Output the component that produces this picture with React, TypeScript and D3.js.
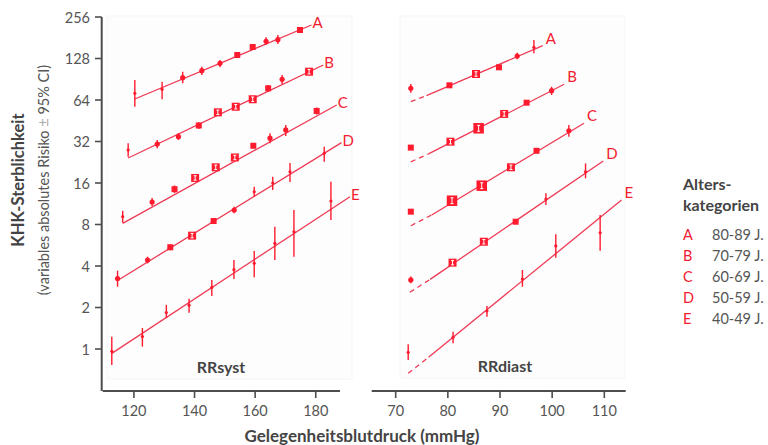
import React from "react";
import * as d3 from "d3";

const W = 768;
const H = 445;

const groups = ["A", "B", "C", "D", "E"];
const ageClasses = ["80-89 J.", "70-79 J.", "60-69 J.", "50-59 J.", "40-49 J."];
const riskTicks = [1, 2, 4, 8, 16, 32, 64, 128, 256];
const sysTicks = [120, 140, 160, 180];
const diaTicks = [70, 80, 90, 100, 110];

// rows: [blood pressure mmHg, risk, CI low, CI high, weight class]
const sysA = [
  [120.3, 71.6, 57.2, 89.4, 1], [129.3, 76.5, 64.8, 86.9, 1], [136.1, 92.9, 84.6, 102.7, 2],
  [142.4, 104.4, 97.2, 111.6, 2], [148.4, 118.1, 110.5, 124.8, 2], [154.1, 135.7, 130.6, 141.0, 3],
  [159.2, 155.1, 147.5, 162.3, 3], [163.6, 170.6, 160.4, 182.4, 2], [167.5, 175.2, 163.1, 189.5, 2],
  [174.8, 206.1, 199.3, 212.0, 3],
];
const sysB = [
  [118.1, 27.8, 24.8, 31.1, 1], [127.7, 30.7, 28.6, 32.8, 2], [134.7, 34.7, 32.8, 36.9, 2],
  [141.4, 41.8, 39.4, 44.3, 3], [147.7, 52.1, 49.0, 55.1, 4], [153.6, 57.2, 54.2, 59.9, 4],
  [159.2, 64.8, 60.9, 68.4, 4], [164.3, 77.8, 73.2, 82.2, 3], [168.9, 90.4, 83.6, 97.2, 2],
  [177.8, 102.7, 96.4, 109.2, 4],
];
const sysC = [
  [116.3, 9.11, 8.24, 10.08, 1], [126.0, 11.65, 10.9, 12.46, 2], [133.4, 14.43, 13.54, 15.35, 3],
  [140.2, 17.4, 16.8, 18.0, 4], [147.0, 20.8, 20.1, 21.5, 4], [153.3, 24.5, 23.7, 25.3, 4],
  [159.4, 29.8, 28.6, 31.0, 3], [164.9, 33.8, 31.1, 36.7, 2], [170.1, 38.8, 35.1, 42.2, 2],
  [180.3, 53.3, 50.2, 56.5, 3],
];
const sysD = [
  [114.6, 3.24, 2.83, 3.7, 2], [124.5, 4.42, 4.18, 4.67, 2], [132.0, 5.47, 5.2, 5.75, 3],
  [139.2, 6.64, 6.4, 6.9, 4], [146.3, 8.48, 8.1, 8.9, 3], [153.1, 10.19, 9.65, 10.77, 2],
  [159.7, 13.83, 12.73, 15.04, 1], [165.8, 16.0, 14.23, 17.78, 1], [171.5, 19.3, 16.27, 22.35, 1],
  [182.8, 26.3, 22.8, 29.3, 1],
];
const sysE = [
  [112.7, 0.962, 0.765, 1.228, 1], [122.8, 1.23, 1.04, 1.42, 1], [130.7, 1.84, 1.68, 2.09, 1],
  [138.2, 2.08, 1.83, 2.31, 1], [145.7, 2.8, 2.42, 3.17, 1], [153.0, 3.76, 3.22, 4.42, 1],
  [159.7, 4.18, 3.31, 5.14, 1], [166.5, 5.84, 4.42, 7.71, 1], [172.8, 7.09, 4.67, 10.19, 1],
  [185.0, 11.85, 8.63, 16.35, 1],
];

// regression lines: [mmHg, risk] start and end
const sysFitA = [[120.3, 65.1], [178.6, 224]];
const sysFitB = [[118.1, 24.3], [182.5, 114.8]];
const sysFitC = [[116.3, 8.16], [186.9, 58.9]];
const sysFitD = [[114.6, 3.14], [188.5, 31.4]];
const sysFitE = [[112.7, 0.93], [191.3, 12.73]];

const diaA = [
  [72.9, 77.8, 72.3, 83.6, 2], [80.3, 81.8, 79.5, 84.2, 3], [85.4, 98.8, 96.0, 101.7, 4],
  [89.8, 110.5, 107.5, 113.5, 3], [93.3, 133.4, 126.3, 141.0, 2], [96.5, 154.3, 139.6, 174.4, 1],
];
const diaB = [
  [72.9, 28.9, 28.0, 29.8, 3], [80.5, 31.9, 31.0, 32.8, 4], [85.9, 39.9, 38.8, 41.0, 5],
  [90.8, 50.7, 49.3, 52.1, 4], [95.1, 61.2, 59.5, 63.0, 3], [99.9, 74.8, 69.6, 79.9, 2],
];
const diaC = [
  [72.9, 9.91, 9.6, 10.2, 3], [80.8, 11.9, 11.5, 12.3, 5], [86.5, 15.3, 14.8, 15.8, 5],
  [92.1, 20.8, 20.1, 21.5, 4], [97.0, 27.4, 26.6, 28.2, 3], [103.2, 38.3, 34.7, 42.2, 2],
];
const diaD = [
  [72.9, 3.17, 3.0, 3.35, 2], [80.9, 4.23, 4.1, 4.37, 4], [86.9, 6.0, 5.8, 6.2, 4],
  [93.0, 8.38, 8.1, 8.65, 3], [98.8, 12.24, 11.08, 13.47, 1], [106.4, 19.3, 17.3, 22.2, 1],
];
const diaE = [
  [72.4, 0.946, 0.832, 1.081, 1], [81.0, 1.216, 1.1, 1.335, 1], [87.5, 1.887, 1.715, 2.05, 1],
  [94.3, 3.22, 2.83, 3.74, 1], [100.7, 5.59, 4.59, 6.79, 1], [109.2, 6.97, 5.16, 9.38, 1],
];

// [dashed start, solid start, end]
const diaFitA = [[72.9, 62.2], [75.9, 68.8], [98.2, 158.5]];
const diaFitB = [[72.9, 22.8], [76.3, 26.0], [102.3, 83.2]];
const diaFitC = [[72.9, 7.84], [76.9, 9.38], [106.1, 43.4]];
const diaFitD = [[72.7, 2.58], [76.6, 3.2], [109.8, 23.1]];
const diaFitE = [[72.4, 0.666], [76.3, 0.871], [113.3, 12.04]];

const sysSeries = [sysA, sysB, sysC, sysD, sysE];
const sysFits = [sysFitA, sysFitB, sysFitC, sysFitD, sysFitE];
const diaSeries = [diaA, diaB, diaC, diaD, diaE];
const diaFits = [diaFitA, diaFitB, diaFitC, diaFitD, diaFitE];

const LINE = "#ee3a55";
const MARK = "#ff1a2e";
const LABEL = "#f2202f";
const AXIS = "#4d4d4d";
const TEXT = "#555555";
const FONT = "Lato, 'Open Sans', sans-serif";

const y = d3.scaleLog().base(2).domain([1, 256]).range([349, 17]);
const xSys = d3.scaleLinear().domain([109.7, 188]).range([102.7, 340]);
const xDia = d3.scaleLinear().domain([65.4, 114.1]).range([371.7, 625.7]);
const AXIS_Y = 391;

const sizeOf = d3.scaleOrdinal<number, number>().domain([1, 2, 3, 4, 5]).range([1.6, 2.6, 6, 8, 10.5]);

function Marker({ cx, cy, w }: { cx: number; cy: number; w: number }) {
  const s = sizeOf(w);
  if (w <= 2) return <circle cx={cx} cy={cy} r={s} fill={MARK} />;
  return (
    <g>
      <rect x={cx - s / 2} y={cy - s / 2} width={s} height={s} fill={MARK} />
      {w >= 4 && (
        <g stroke="#fff" strokeWidth={1}>
          <line x1={cx} x2={cx} y1={cy - s * 0.28} y2={cy + s * 0.28} />
          <line x1={cx - 1.5} x2={cx + 1.5} y1={cy - s * 0.28} y2={cy - s * 0.28} />
          <line x1={cx - 1.5} x2={cx + 1.5} y1={cy + s * 0.28} y2={cy + s * 0.28} />
        </g>
      )}
    </g>
  );
}

function Series({ rows, x }: { rows: number[][]; x: d3.ScaleLinear<number, number> }) {
  return (
    <g>
      {rows.map((r, i) => (
        <line key={"e" + i} x1={x(r[0])} x2={x(r[0])} y1={y(r[2])} y2={y(r[3])} stroke={MARK} strokeWidth={1.4} />
      ))}
      {rows.map((r, i) => (
        <Marker key={"m" + i} cx={x(r[0])} cy={y(r[1])} w={r[4]} />
      ))}
    </g>
  );
}

export default function App() {
  const line = (x: d3.ScaleLinear<number, number>) =>
    d3.line<number[]>().x((d) => x(d[0])).y((d) => y(d[1]));
  const ls = line(xSys);
  const ld = line(xDia);

  return (
    <svg
      width={W}
      height={H}
      viewBox={`0 0 ${W} ${H}`}
      style={{ position: "absolute", left: 0, top: 0, background: "#fff", fontFamily: FONT }}
    >
      {/* faint panel frames */}
      <rect x={107} y={16} width={245} height={363} fill="#fdfdfd" stroke="#f5f5f5" strokeWidth={1} />
      <rect x={400} y={16} width={225} height={362} fill="#fdfdfd" stroke="#f5f5f5" strokeWidth={1} />

      {/* y axis */}
      <line x1={101.7} x2={101.7} y1={y(256)} y2={AXIS_Y} stroke={AXIS} strokeWidth={2} />
      {riskTicks.map((t) => (
        <g key={t}>
          <line x1={95} x2={101.7} y1={y(t)} y2={y(t)} stroke={AXIS} strokeWidth={1.6} />
          <text x={90} y={y(t)} textAnchor="end" dominantBaseline="central" fontSize={14.5} fill={TEXT}>
            {t}
          </text>
        </g>
      ))}

      {/* x axes */}
      <line x1={xSys.range()[0]} x2={xSys.range()[1]} y1={AXIS_Y} y2={AXIS_Y} stroke={AXIS} strokeWidth={2} />
      {sysTicks.map((t) => (
        <g key={t}>
          <line x1={xSys(t)} x2={xSys(t)} y1={AXIS_Y} y2={AXIS_Y + 7} stroke={AXIS} strokeWidth={1.6} />
          <text x={xSys(t)} y={410} textAnchor="middle" dominantBaseline="central" fontSize={14.5} fill={TEXT}>
            {t}
          </text>
        </g>
      ))}
      <line x1={xDia.range()[0]} x2={xDia.range()[1]} y1={AXIS_Y} y2={AXIS_Y} stroke={AXIS} strokeWidth={2} />
      {diaTicks.map((t) => (
        <g key={t}>
          <line x1={xDia(t)} x2={xDia(t)} y1={AXIS_Y} y2={AXIS_Y + 7} stroke={AXIS} strokeWidth={1.6} />
          <text x={xDia(t)} y={410} textAnchor="middle" dominantBaseline="central" fontSize={14.5} fill={TEXT}>
            {t}
          </text>
        </g>
      ))}

      {/* axis titles */}
      <text x={362} y={435} textAnchor="middle" dominantBaseline="central" fontSize={17} fontWeight="bold" fill="#444">
        Gelegenheitsblutdruck (mmHg)
      </text>
      <text
        transform="translate(17.5,180) rotate(-90)"
        textAnchor="middle"
        dominantBaseline="central"
        fontSize={16.5}
        fontWeight="bold"
        fill="#444"
      >
        KHK-Sterblichkeit
      </text>
      <text
        transform="translate(43,180) rotate(-90)"
        textAnchor="middle"
        dominantBaseline="central"
        fontSize={14.5}
        fill={TEXT}
      >
        (variables absolutes Risiko <tspan fill="#aaa">±</tspan> 95% CI)
      </text>

      {/* systolic panel */}
      {sysFits.map((f, i) => (
        <g key={"sf" + i}>
          <path d={ls(f) || ""} fill="none" stroke={LINE} strokeWidth={1.3} />
          <text
            x={xSys(f[1][0]) + 1}
            y={y(f[1][1]) - 3}
            dominantBaseline="central"
            fontSize={15}
            fill={LABEL}
          >
            {groups[i]}
          </text>
        </g>
      ))}
      {sysSeries.map((s, i) => (
        <Series key={"ss" + i} rows={s} x={xSys} />
      ))}

      {/* diastolic panel */}
      {diaFits.map((f, i) => (
        <g key={"df" + i}>
          <path d={ld([f[0], f[1]]) || ""} fill="none" stroke={LINE} strokeWidth={1.3} strokeDasharray="5,4" />
          <path d={ld([f[1], f[2]]) || ""} fill="none" stroke={LINE} strokeWidth={1.3} />
          <text
            x={xDia(f[2][0]) + 3}
            y={y(f[2][1]) - 8}
            dominantBaseline="central"
            fontSize={15}
            fill={LABEL}
          >
            {groups[i]}
          </text>
        </g>
      ))}
      {diaSeries.map((s, i) => (
        <Series key={"ds" + i} rows={s} x={xDia} />
      ))}

      {/* panel labels */}
      <text x={221} y={366} textAnchor="middle" dominantBaseline="central" fontSize={16} fontWeight="bold" fill="#444">
        RRsyst
      </text>
      <text x={505} y={365} textAnchor="middle" dominantBaseline="central" fontSize={16} fontWeight="bold" fill="#444">
        RRdiast
      </text>

      {/* legend */}
      <text x={683} y={183} dominantBaseline="central" fontSize={16} fontWeight="bold" fill="#444">
        Alters-
      </text>
      <text x={683} y={204} dominantBaseline="central" fontSize={16} fontWeight="bold" fill="#444">
        kategorien
      </text>
      {groups.map((g, i) => (
        <g key={"lg" + g}>
          <text x={683} y={234 + i * 21} dominantBaseline="central" fontSize={14.5} fill={LABEL}>
            {g}
          </text>
          <text x={712} y={234 + i * 21} dominantBaseline="central" fontSize={14.5} fill={TEXT}>
            {ageClasses[i]}
          </text>
        </g>
      ))}
    </svg>
  );
}
